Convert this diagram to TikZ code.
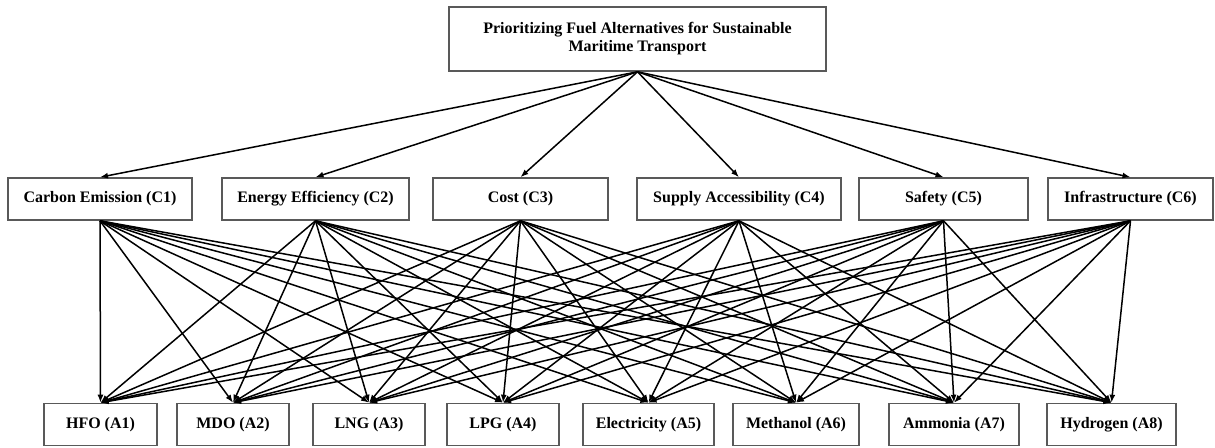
\documentclass[tikz,border=0pt]{standalone}
\usepackage{fontspec}
\setmainfont{Liberation Serif}
\usetikzlibrary{arrows.meta}

\begin{document}
\begin{tikzpicture}[x=1pt, y=-1pt,
    main/.style = {draw=black!65, line width=1.6pt, rectangle, inner sep=0pt, minimum height=42pt, font=\fontsize{16}{18}\selectfont\bfseries},
    link/.style = {-{Latex[length=8pt,width=6pt]}, line width=1.5pt, black}]
      \useasboundingbox (0,0) rectangle (1215,447);

      \node[main, minimum width=377pt, minimum height=64pt, align=center] (goal) at (637.5,39) {Prioritizing Fuel Alternatives for Sustainable\\Maritime Transport};

      % criteria
      \node[main, minimum width=184pt] (c1) at (100,199) {Carbon Emission (C1)};
      \node[main, minimum width=187pt] (c2) at (315.5,199) {Energy Efficiency (C2)};
      \node[main, minimum width=175pt] (c3) at (520.5,199) {Cost (C3)};
      \node[main, minimum width=204pt] (c4) at (739,199) {Supply Accessibility (C4)};
      \node[main, minimum width=169pt] (c5) at (943.5,199) {Safety (C5)};
      \node[main, minimum width=165pt] (c6) at (1130.5,199) {Infrastructure (C6)};

      % alternatives
      \node[main, minimum width=113pt] (a1) at (100.5,424.5) {HFO (A1)};
      \node[main, minimum width=112pt] (a2) at (233,424.5) {MDO (A2)};
      \node[main, minimum width=112pt] (a3) at (369,424.5) {LNG (A3)};
      \node[main, minimum width=112pt] (a4) at (503,424.5) {LPG (A4)};
      \node[main, minimum width=131pt] (a5) at (648.5,424.5) {Electricity (A5)};
      \node[main, minimum width=126pt] (a6) at (796,424.5) {Methanol (A6)};
      \node[main, minimum width=130pt] (a7) at (954,424.5) {Ammonia (A7)};
      \node[main, minimum width=129pt] (a8) at (1111.5,424.5) {Hydrogen (A8)};

      \path
      (goal.south) edge[link] (c1.north)
      (goal.south) edge[link] (c2.north)
      (goal.south) edge[link] (c3.north)
      (goal.south) edge[link] (c4.north)
      (goal.south) edge[link] (c5.north)
      (goal.south) edge[link] (c6.north);

      % every criterion to every alternative
      \foreach \c in {1,...,6}
        \foreach \a in {1,...,8}
          \draw[link] (c\c.south) -- (a\a.north);
    \end{tikzpicture}
\end{document}
